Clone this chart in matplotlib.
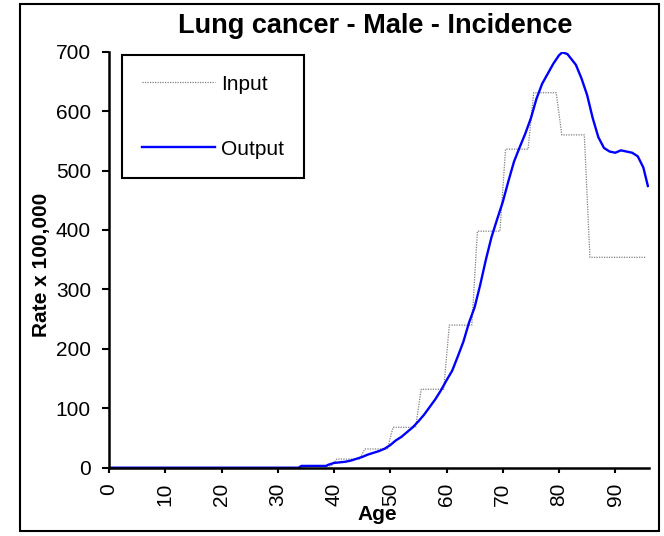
import numpy as np
import matplotlib
matplotlib.use('Agg')
import matplotlib.pyplot as plt
from matplotlib.patches import Rectangle

plt.rcParams['font.family'] = ['Liberation Sans', 'DejaVu Sans']

# ── Input: 5-year age group rates (x 100,000), one value per group ──
group_starts = [0, 5, 10, 15, 20, 25, 30, 35, 40, 45, 50, 55, 60, 65, 70, 75, 80, 85]
group_rates = [0, 0, 0, 0, 0, 0, 0, 3, 14.5, 31.5, 68, 132, 240, 398, 536, 631, 560, 354]
last_age = 95

# ── Output: smoothed single-age curve ──
out_age = [0, 10, 20, 30, 33.7, 34.2, 38.6, 39.0, 40, 41, 42, 43, 44, 45, 46, 47, 48, 49,
           50, 51, 52, 53, 54, 55, 56, 57, 58, 59, 60, 61, 62, 63, 64, 65, 66, 67, 68,
           69, 70, 71, 72, 73, 74, 75, 76, 77, 78, 79, 80, 80.6, 81.5, 82, 83, 84, 85,
           86, 87, 88, 89, 90, 91, 92, 93, 94, 95, 95.8]
out_rate = [0, 0, 0, 0, 0, 3, 3, 5, 8, 9, 10, 12, 15, 18, 22, 25, 28, 32,
            38, 46, 52, 60, 68, 78, 89, 102, 115, 130, 147, 163, 187, 212, 244, 270, 308, 350, 388,
            418, 447, 482, 515, 539, 562, 588, 621, 646, 663, 680, 694, 699, 696, 690, 678, 655, 627,
            588, 556, 538, 532, 530, 534, 532, 530, 524, 505, 474]

# expand the group rates to single years, plotted at mid-year
ages = np.arange(0, last_age + 1)
idx = np.searchsorted(group_starts, ages, side='right') - 1
in_rate = np.array(group_rates)[idx]
in_x = ages + 0.5

fig = plt.figure(figsize=(6.64, 5.36), dpi=100)
ax = fig.add_axes([109 / 664, 1 - 467.7 / 536, 540 / 664, 416 / 536])

ax.plot(in_x, in_rate, color='#808080', lw=0.9, linestyle=(0, (1, 1)), label='Input')
ax.plot(out_age, out_rate, color='#0000ff', lw=1.7, label='Output')

ax.set_xlim(0, 96)
ax.set_ylim(0, 700)
ax.set_xticks(range(0, 91, 10))
ax.set_yticks(range(0, 701, 100))

for s in ['top', 'right']:
    ax.spines[s].set_visible(False)
for s in ['left', 'bottom']:
    ax.spines[s].set_linewidth(1.8)

ax.tick_params(axis='x', direction='out', length=3.6, width=1.5, pad=7.5,
               labelsize=15, labelrotation=90)
ax.tick_params(axis='y', direction='out', length=5, width=1.5, pad=8, labelsize=15)

fig.suptitle('Lung cancer - Male - Incidence', x=375 / 664, y=1 - 26 / 536,
             va='center', fontsize=19.5, fontweight='bold')
fig.text(41 / 664, 1 - 264.5 / 536, 'Rate x 100,000', rotation=90, ha='center',
         va='center', fontsize=15, fontweight='bold')
fig.text(377 / 664, 1 - 514 / 536, 'Age', ha='center', va='center',
         fontsize=15, fontweight='bold')

leg = ax.legend(loc='upper left', bbox_to_anchor=(122 / 664, 1 - 55 / 536),
                bbox_transform=fig.transFigure, borderaxespad=0, fontsize=15,
                handlelength=3.5, handletextpad=0.3, labelspacing=2.2,
                borderpad=0.95, fancybox=False, framealpha=1)
leg.get_frame().set_edgecolor('black')
leg.get_frame().set_linewidth(1.5)

# chart area border
fig.patches.append(Rectangle((19.5 / 664, 5 / 536), 639.5 / 664, 526.5 / 536,
                             transform=fig.transFigure, fill=False,
                             edgecolor='black', linewidth=1.5))

fig.savefig('out.png', dpi=100)
